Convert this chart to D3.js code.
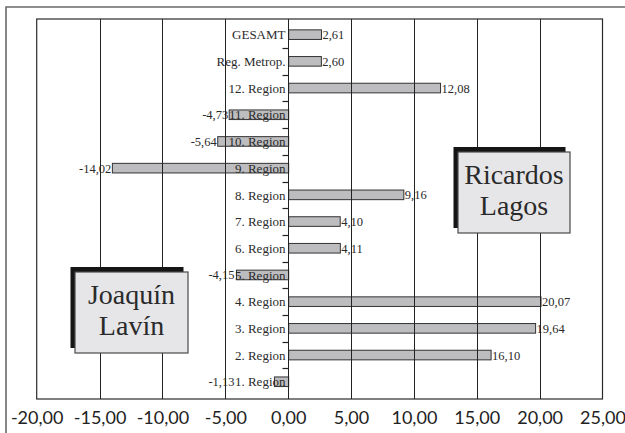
<!DOCTYPE html>
<html>
<head>
<meta charset="utf-8">
<script src="https://cdn.jsdelivr.net/npm/d3@7"></script>
<style>
  html, body { margin: 0; padding: 0; background: #fff; }
  svg { display: block; }
  .serif { font-family: "Liberation Serif", "DejaVu Serif", "Times New Roman", serif; }
  .axis-sans { font-family: "Lato", "Open Sans", sans-serif; }
</style>
</head>
<body>
<svg id="chart" width="625" height="433"></svg>
<script>
// Regional difference in vote share (percentage points), Lagos vs. Lavín
const categories = ["GESAMT", "Reg. Metrop.", "12. Region", "11. Region", "10. Region", "9. Region",
  "8. Region", "7. Region", "6. Region", "5. Region", "4. Region", "3. Region", "2. Region", "1. Region"];
const values = [2.61, 2.60, 12.08, -4.73, -5.64, -14.02, 9.16, 4.10, 4.11, -4.15, 20.07, 19.64, 16.10, -1.13];
const xTicks = [-20, -15, -10, -5, 0, 5, 10, 15, 20, 25];
const boxLabels = [
  { lines: ["Ricardos", "Lagos"], x0: 458, y0: 152, x1: 570, y1: 233 },
  { lines: ["Joaquín", "Lavín"], x0: 75, y0: 272, x1: 188, y1: 353 }
];

const svg = d3.select("#chart");
const plot = { left: 36.7, right: 602.5, top: 19, bottom: 399 };

const locale = d3.formatLocale({ decimal: ",", thousands: ".", grouping: [3], currency: ["", ""], minus: "-" });
const fmt = locale.format(".2f");

const x = d3.scaleLinear().domain([-20, 25]).range([plot.left, plot.right]);
const y = d3.scaleBand().domain(categories).range([21.3, 395.1]).paddingInner(0.64).paddingOuter(0.32);
const yAxisX = Math.round(x(0)) + 0.5;

// outer frame (top and left)
svg.append("path")
  .attr("d", `M6,433 V7 H625`)
  .attr("fill", "none").attr("stroke", "#6a6a6a").attr("stroke-width", 1.6);

// bars
svg.append("g").selectAll("rect").data(values).join("rect")
  .attr("x", d => x(Math.min(0, d)) + 0.5)
  .attr("y", (d, i) => y(categories[i]))
  .attr("width", d => Math.abs(x(d) - x(0)))
  .attr("height", y.bandwidth())
  .attr("fill", "#bdbdc0")
  .attr("stroke", "#333").attr("stroke-width", 1);

// category labels (measured first so negative value labels can sit clear of them)
const catLabels = svg.append("g").selectAll("text").data(categories).join("text")
  .attr("class", "serif")
  .attr("x", yAxisX - 3)
  .attr("y", d => y(d) + y.bandwidth() / 2)
  .attr("dy", "0.36em")
  .attr("text-anchor", "end")
  .attr("font-size", 13)
  .attr("fill", "#2a2a2a")
  .text(d => d);
const catLeft = catLabels.nodes().map(n => yAxisX - 3 - n.getComputedTextLength());

// value labels
svg.append("g").selectAll("text").data(values).join("text")
  .attr("class", "serif")
  .attr("x", (d, i) => d >= 0 ? x(d) + 1.5 : Math.min(x(d) - 0.5, catLeft[i] - 0.5))
  .attr("y", (d, i) => y(categories[i]) + y.bandwidth() / 2)
  .attr("dy", "0.36em")
  .attr("text-anchor", d => d >= 0 ? "start" : "end")
  .attr("font-size", 12.5)
  .attr("fill", "#2a2a2a")
  .text(d => fmt(d));

// vertical gridlines
svg.append("g").selectAll("line").data(xTicks.filter(t => t > -20 && t < 25)).join("line")
  .attr("x1", d => Math.round(x(d)) + 0.5).attr("x2", d => Math.round(x(d)) + 0.5)
  .attr("y1", plot.top).attr("y2", plot.bottom)
  .attr("stroke", "#222").attr("stroke-width", 1);

// plot frame
svg.append("rect")
  .attr("x", plot.left).attr("y", plot.top)
  .attr("width", plot.right - plot.left).attr("height", plot.bottom - plot.top)
  .attr("fill", "none").attr("stroke", "#2a2a2a").attr("stroke-width", 1.2);

// tick marks between categories on the zero axis
const bounds = d3.range(1, categories.length).map(i => (y(categories[i - 1]) + y(categories[i])) / 2 + y.bandwidth() / 2);
svg.append("g").selectAll("line").data(bounds).join("line")
  .attr("x1", yAxisX - 6).attr("x2", yAxisX)
  .attr("y1", d => Math.round(d) + 0.5).attr("y2", d => Math.round(d) + 0.5)
  .attr("stroke", "#222").attr("stroke-width", 1.2);

// x axis tick labels
const xAxis = d3.axisBottom(x).tickValues(xTicks).tickSize(0).tickPadding(0).tickFormat(d => fmt(d));
const gx = svg.append("g").attr("transform", `translate(0,${plot.bottom})`).call(xAxis);
gx.select(".domain").remove();
gx.attr("font-family", null).attr("font-size", null);
gx.selectAll("text")
  .attr("class", "axis-sans")
  .attr("y", 25).attr("dy", 0)
  .attr("font-size", 18)
  .attr("fill", "#222");

// candidate boxes with drop shadow
const boxes = svg.append("g").selectAll("g").data(boxLabels).join("g");
boxes.append("rect")
  .attr("x", d => d.x0 - 4.5).attr("y", d => d.y0 - 5)
  .attr("width", d => d.x1 - d.x0).attr("height", d => d.y1 - d.y0)
  .attr("fill", "#151515");
boxes.append("rect")
  .attr("x", d => d.x0).attr("y", d => d.y0)
  .attr("width", d => d.x1 - d.x0).attr("height", d => d.y1 - d.y0)
  .attr("fill", "#e6e6e8").attr("stroke", "#4a4a4a").attr("stroke-width", 1.2);
boxes.each(function(d) {
  const g = d3.select(this);
  const cx = (d.x0 + d.x1) / 2, cy = (d.y0 + d.y1) / 2;
  d.lines.forEach((line, i) => {
    g.append("text")
      .attr("class", "serif")
      .attr("x", cx)
      .attr("y", cy - 8.5 + i * 31)
      .attr("text-anchor", "middle")
      .attr("font-size", 28)
      .attr("fill", "#2a2a2a")
      .text(line);
  });
});
</script>
</body>
</html>
